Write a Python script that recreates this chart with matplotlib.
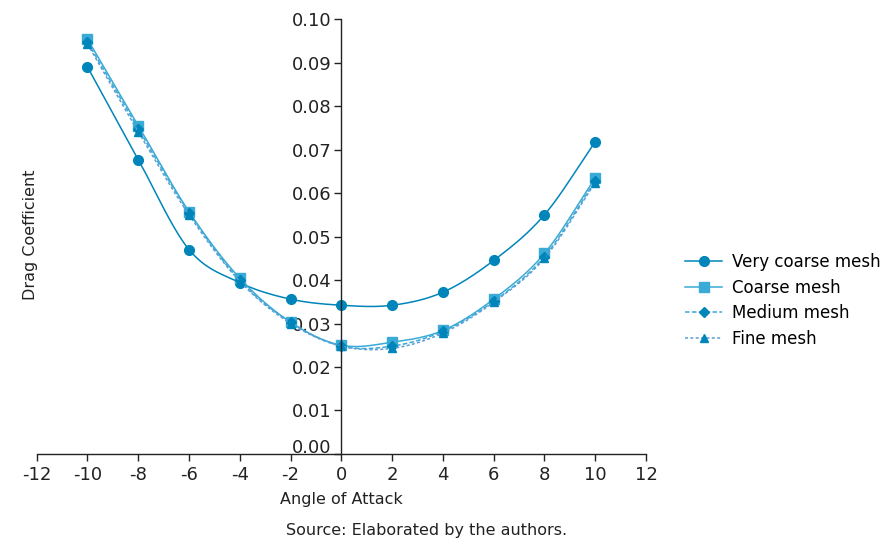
import matplotlib
matplotlib.use("Agg")
import matplotlib.pyplot as plt
import matplotlib.transforms as mtransforms
import numpy as np

plt.rcParams.update(
    {
        "font.family": ["DejaVu Sans"],
        "font.size": 12,
        "axes.linewidth": 1.0,
    }
)

angles = [-10, -8, -6, -4, -2, 0, 2, 4, 6, 8, 10]
very_coarse = [0.0890, 0.0677, 0.0470, 0.0394, 0.0356, 0.0342, 0.0342, 0.0372, 0.0445, 0.0550, 0.0718]
coarse = [0.0954, 0.0755, 0.0557, 0.0404, 0.0303, 0.0250, 0.0257, 0.0284, 0.0356, 0.0461, 0.0635]
medium = [0.0947, 0.0748, 0.0555, 0.0399, 0.0303, 0.0248, 0.0248, 0.0282, 0.0351, 0.0454, 0.0628]
fine = [0.0943, 0.0741, 0.0550, 0.0397, 0.0300, 0.0248, 0.0243, 0.0278, 0.0349, 0.0450, 0.0624]

x_ticks = list(range(-12, 13, 2))
y_ticks = [0.00, 0.01, 0.02, 0.03, 0.04, 0.05, 0.06, 0.07, 0.08, 0.09, 0.10]

DARK = "#0085BA"
LIGHT = "#3AAAD6"
TEXT = "#222222"

series = [
    ("Very coarse mesh", very_coarse, DARK, DARK, "-", "o", 7),
    ("Coarse mesh", coarse, LIGHT, LIGHT, "-", "s", 6.5),
    ("Medium mesh", medium, LIGHT, DARK, (0, (3, 1.5)), "D", 5.5),
    ("Fine mesh", fine, "#5B9FD6", DARK, (0, (2, 1.5)), "^", 6),
]


def smooth(x, y, steps=20):
    # Catmull-Rom curve through every point, like a spreadsheet "smoothed line"
    x = np.asarray(x, dtype=float)
    y = np.asarray(y, dtype=float)
    px = np.concatenate([[2 * x[0] - x[1]], x, [2 * x[-1] - x[-2]]])
    py = np.concatenate([[2 * y[0] - y[1]], y, [2 * y[-1] - y[-2]]])
    xs, ys = [], []
    t = np.linspace(0, 1, steps, endpoint=False)
    for i in range(1, len(px) - 2):
        for arr, out in ((px, xs), (py, ys)):
            p0, p1, p2, p3 = arr[i - 1], arr[i], arr[i + 1], arr[i + 2]
            out.extend(
                0.5
                * (
                    2 * p1
                    + (-p0 + p2) * t
                    + (2 * p0 - 5 * p1 + 4 * p2 - p3) * t**2
                    + (-p0 + 3 * p1 - 3 * p2 + p3) * t**3
                )
            )
    xs.append(x[-1])
    ys.append(y[-1])
    return np.array(xs), np.array(ys)


fig = plt.figure(figsize=(8.93, 5.45), dpi=100)
ax = fig.add_axes([0.0411, 0.167, 0.6823, 0.798])

handles = []
for label, values, line_color, marker_color, style, marker, size in series:
    sx, sy = smooth(angles, values)
    ax.plot(sx, sy, color=line_color, linestyle=style, linewidth=1.1)
    ax.plot(angles, values, linestyle="none", marker=marker, markersize=size, color=marker_color)
    (h,) = ax.plot(
        [], [], color=line_color, linestyle=style, linewidth=1.1,
        marker=marker, markersize=size, markerfacecolor=marker_color, markeredgecolor=marker_color,
    )
    handles.append(h)

ax.set_xlim(-12, 12)
ax.set_ylim(0, 0.10)
ax.set_xticks(x_ticks)
ax.set_xticklabels([str(v) for v in x_ticks])
ax.set_yticks(y_ticks)
ax.set_yticklabels([f"{v:.2f}" for v in y_ticks])

ax.spines["left"].set_position(("data", 0))
ax.spines["bottom"].set_position(("data", 0))
ax.spines["top"].set_visible(False)
ax.spines["right"].set_visible(False)
for side in ("left", "bottom"):
    ax.spines[side].set_color(TEXT)
ax.tick_params(direction="out", length=5, width=1.0, color=TEXT, labelsize=13, labelcolor=TEXT)
ax.tick_params(axis="y", pad=2)

# lift the 0.00 label so it sits clear of the x axis line
zero_label = ax.get_yticklabels()[0]
zero_label.set_transform(
    zero_label.get_transform() + mtransforms.ScaledTranslation(0, 0.08, fig.dpi_scale_trans)
)

ax.set_xlabel("Angle of Attack", fontsize=11.5, color=TEXT, labelpad=6)
ax.set_ylabel("Drag Coefficient", fontsize=11.5, color=TEXT)
ax.yaxis.set_label_coords(38 / 893, 1 - 235 / 545, transform=fig.transFigure)

ax.legend(
    handles,
    [s[0] for s in series],
    loc="center left",
    bbox_to_anchor=(1.04, 0.353),
    frameon=False,
    fontsize=12,
    handlelength=2.2,
    handletextpad=0.6,
    labelspacing=0.45,
)

fig.text(427 / 893, 1 - 531 / 545, "Source: Elaborated by the authors.", ha="center", va="center",
         fontsize=11.5, color=TEXT)

fig.savefig("out.png", dpi=100)
